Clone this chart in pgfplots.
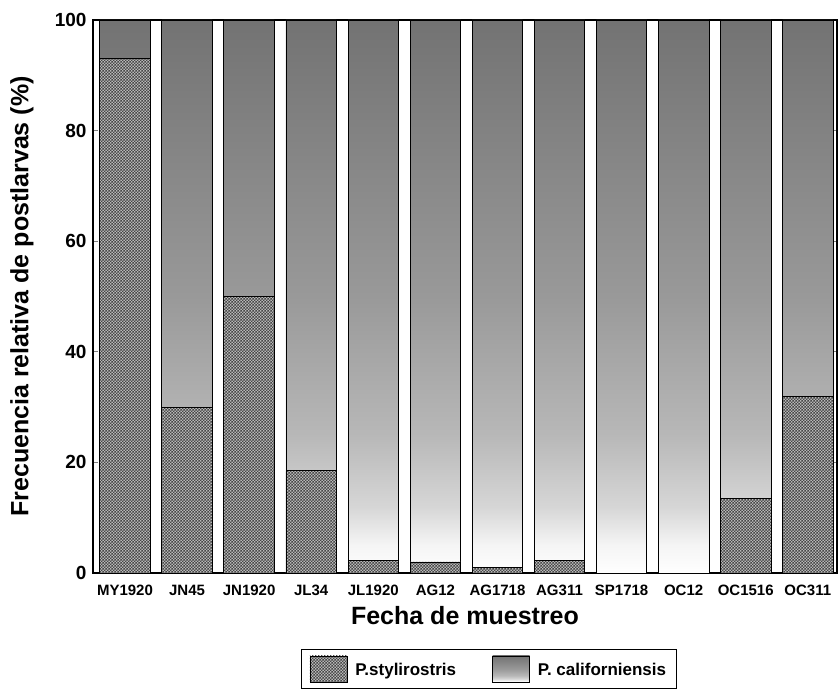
\documentclass[border=0pt]{standalone}
\usepackage{pgfplots}
\pgfplotsset{compat=1.18}
\usepackage{pgfplotstable}
\usepackage{fontspec}
\setmainfont{Liberation Sans}
\usetikzlibrary{patterns}

% halftone-like checker texture for the P. stylirostris bars
\pgfdeclarepatternformonly{checker}{\pgfpointorigin}{\pgfpoint{3.4pt}{3.4pt}}{\pgfpoint{3.4pt}{3.4pt}}{%
  \pgfpathrectangle{\pgfpointorigin}{\pgfpoint{1.7pt}{1.7pt}}%
  \pgfpathrectangle{\pgfpoint{1.7pt}{1.7pt}}{\pgfpoint{1.7pt}{1.7pt}}%
  \pgfusepath{fill}}

% P. californiensis: dark at the top of each bar, fading to white at its base
\pgfdeclareverticalshading{califshade}{100bp}{%
  color(0bp)=(white); color(25bp)=(white); color(27.5bp)=(black!4);
  color(31bp)=(black!16); color(37.5bp)=(black!28); color(50bp)=(black!40);
  color(75bp)=(black!55); color(100bp)=(black!55)}

% relative frequency of postlarvae per sampling date (%)
\pgfplotstableread{
x  sty   cal
0  93    7
1  30    70
2  50    50
3  18.5  81.5
4  2.2   97.8
5  2     98
6  1     99
7  2.3   97.7
8  0     100
9  0     100
10 13.4  86.6
11 32    68
}\frecuencias

\begin{document}
\begin{tikzpicture}
\path[use as bounding box] (-93pt,-119pt) rectangle (746pt,573pt);
\begin{axis}[
  scale only axis, width=744pt, height=553pt,
  ybar stacked, bar width=50.5pt,
  xmin=-0.515, xmax=11.47, ymin=0, ymax=100,
  axis line style={line width=1.1pt},
  xtick=data,
  xticklabels={MY1920,JN45,JN1920,JL34,JL1920,AG12,AG1718,AG311,SP1718,OC12,OC1516,OC311},
  ytick={0,20,...,100},
  tick align=inside, major tick length=5pt,
  xtick style={draw=none},
  ytick style={line width=0.8pt},
  /pgf/number format/assume math mode=true,
  yticklabel style={font=\fontsize{19}{19}\selectfont\bfseries, xshift=-3pt},
  xticklabel style={font=\fontsize{15}{15}\selectfont\bfseries, anchor=base, yshift=-23pt},
  xlabel={Fecha de muestreo},
  ylabel={Frecuencia relativa de postlarvas (\%)},
  every axis x label/.style={at={(axis description cs:0.5,0)}, yshift=-43pt, anchor=center,
    font=\fontsize{25}{25}\selectfont\bfseries},
  every axis y label/.style={at={(axis description cs:0,0.5)}, xshift=-71pt, rotate=90, anchor=center,
    font=\fontsize{25}{25}\selectfont\bfseries},
  legend columns=2,
  legend style={at={(0.532,-0.1736)}, anchor=center, draw=black, line width=1pt,
    font=\fontsize{17}{17}\selectfont\bfseries, inner xsep=8pt, inner ysep=6pt,
    /tikz/every odd column/.append style={column sep=6pt},
    /tikz/every even column/.append style={column sep=34pt}},
  legend image code/.code={\draw[#1, line width=0.8pt] (0pt,-12pt) rectangle (37pt,14pt);},
]
\addplot[draw=black, line width=0.8pt, fill=black!28,
  postaction={pattern=checker, pattern color=black!72}]
  table[x=x, y=sty] {\frecuencias};
\addlegendentry{P.stylirostris}
\addplot[draw=black, line width=0.8pt, shading=califshade]
  table[x=x, y=cal] {\frecuencias};
\addlegendentry{P. californiensis}
\end{axis}
\end{tikzpicture}
\end{document}
